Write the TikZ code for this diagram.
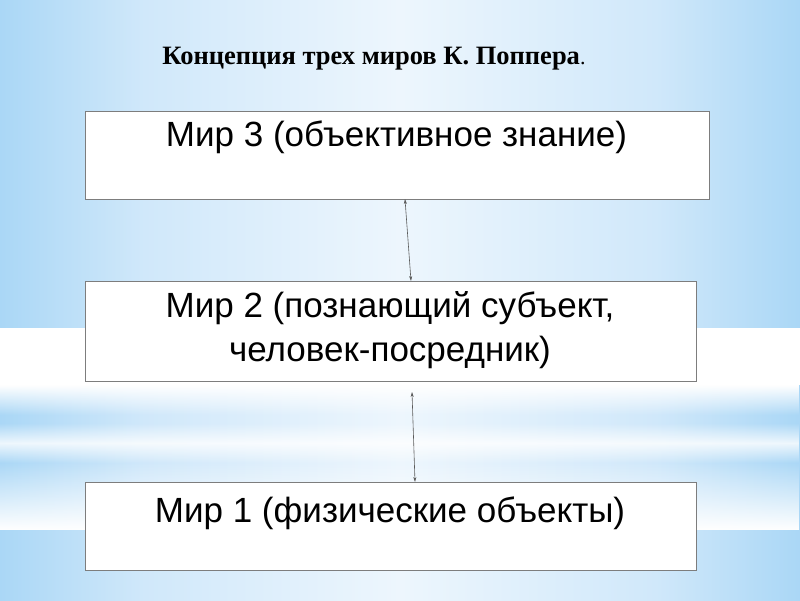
\documentclass[tikz,border=0pt]{standalone}
\usepackage{fontspec}
\setmainfont{Liberation Sans}
\newfontfamily\titlefont{Liberation Serif}
\usetikzlibrary{fadings,arrows.meta}
\tikzfading[name=fadetoptransp, top color=transparent!100, bottom color=transparent!0]
\tikzfading[name=fadebottransp, top color=transparent!0, bottom color=transparent!100]
\definecolor{bgedge}{RGB}{170,215,246}
\definecolor{bgmidtwo}{RGB}{208,232,250}
\definecolor{bgmid}{RGB}{237,246,253}
\definecolor{boxline}{RGB}{125,125,125}
\definecolor{arrowc}{RGB}{90,90,90}
\pgfdeclarehorizontalshading{bgshade}{100bp}{color(0bp)=(bgedge); color(25bp)=(bgedge); color(34bp)=(bgmidtwo); color(50bp)=(bgmid); color(66bp)=(bgmidtwo); color(75bp)=(bgedge); color(100bp)=(bgedge)}
\tikzset{
  worldbox/.style={draw=boxline, line width=1.3pt, fill=white, rectangle, anchor=north west, inner sep=0pt},
  boxtext/.style={anchor=base, inner sep=0pt, font=\fontsize{35}{40}\selectfont},
  link/.style={draw=arrowc, line width=0.6pt, {Stealth[length=5pt,width=3pt]}-{Stealth[length=5pt,width=3pt]}}
}
\begin{document}
\begin{tikzpicture}[x=1pt,y=1pt]
\useasboundingbox (0,0) rectangle (800,600);
% background
\shade[shading=bgshade] (0,0) rectangle (800,600);
\fill[white] (0,215) rectangle (800,272);
\fill[white, path fading=fadebottransp] (0,185) rectangle (800,215);
\fill[white, path fading=fadetoptransp, fill opacity=0.8] (0,157) rectangle (800,177);
\fill[white, path fading=fadebottransp, fill opacity=0.8] (0,137) rectangle (800,157);
\fill[white, path fading=fadetoptransp] (0,70) rectangle (800,138);
% title
\node[anchor=base, inner sep=0pt] (title) at (374,535)
  {\titlefont\fontsize{26.5}{30}\selectfont\bfseries Концепция трех миров К. Поппера\mdseries\fontsize{22}{26}\selectfont.};
% boxes
\node[worldbox, minimum width=624pt, minimum height=88pt] (b3) at (85,489) {};
\node[worldbox, minimum width=611pt, minimum height=100pt] (b2) at (85,319) {};
\node[worldbox, minimum width=611pt, minimum height=88pt] (b1) at (85,118) {};
% texts
\node[boxtext] (t3) at (396.5,453) {Мир 3 (объективное знание)};
\node[boxtext] (t2a) at (390,282) {Мир 2 (познающий субъект,};
\node[boxtext] (t2b) at (390,238) {человек-посредник)};
\node[boxtext] (t1) at (390,78) {Мир 1 (физические объекты)};
% connectors
\coordinate (a1s) at (405,401);
\coordinate (a1e) at (411,319);
\coordinate (a2s) at (412,208);
\coordinate (a2e) at (415,118);
\draw[link] (a1s) -- (a1e);
\draw[link] (a2s) -- (a2e);
\end{tikzpicture}
\end{document}
